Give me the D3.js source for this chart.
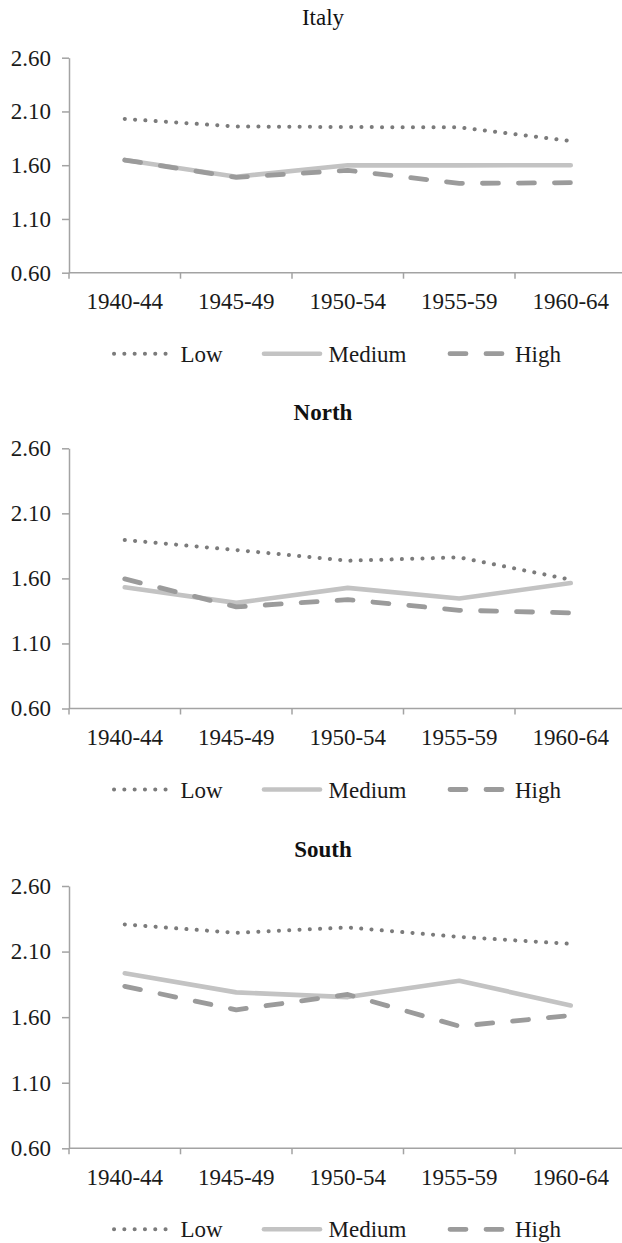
<!DOCTYPE html>
<html><head><meta charset="utf-8">
<script src="https://cdn.jsdelivr.net/npm/d3@7"></script>
<style>body{margin:0;background:#fff}svg{display:block}svg text{font-family:"Liberation Serif","Times New Roman",Times,serif !important}</style>
</head><body><svg id="c" width="622" height="1243" font-family="Liberation Serif, Times New Roman, serif"></svg>
<script>
const categories = ["1940-44","1945-49","1950-54","1955-59","1960-64"];
const yTicks = [0.60, 1.10, 1.60, 2.10, 2.60];
const seriesNames = ["Low","Medium","High"];
const panelTitles = ["Italy","North","South"];

const italyLow    = [2.03, 1.96, 1.955, 1.952, 1.825];
const italyMedium = [1.648, 1.493, 1.60, 1.598, 1.60];
const italyHigh   = [1.648, 1.487, 1.552, 1.431, 1.437];

const northLow    = [1.895, 1.818, 1.736, 1.762, 1.59];
const northMedium = [1.532, 1.412, 1.527, 1.445, 1.565];
const northHigh   = [1.596, 1.381, 1.437, 1.355, 1.335];

const southLow    = [2.307, 2.243, 2.284, 2.212, 2.159];
const southMedium = [1.934, 1.789, 1.753, 1.878, 1.689];
const southHigh   = [1.835, 1.656, 1.773, 1.531, 1.613];

const panelsData = [
  [italyLow, italyMedium, italyHigh],
  [northLow, northMedium, northHigh],
  [southLow, southMedium, southHigh]
];

// layout (not data)
const layout = [
  {title:17,   top:57.7,  bottom:272.7, bold:false},
  {title:411.7,top:448.3, bottom:708.5, bold:true},
  {title:849.3,top:886,   bottom:1148.3,bold:true}
];
const styles = [
  {stroke:"#7b7b7b", width:4, dash:"0.1,10.2", cap:"round"},
  {stroke:"#c3c3c3", width:4.6, dash:null, cap:"round"},
  {stroke:"#9b9b9b", width:4.8, dash:"16,20", cap:"round"}
];
const legendPos = [
  {x1:114, x2:169, tx:180.5},
  {x1:264, x2:320, tx:328.5},
  {x1:450, x2:502, tx:515}
];
const axisColor = "#a3a3a3";
const FS = 23;
const FF = "Liberation Serif, Times New Roman, serif";

const svg = d3.select("#c");
const x = d3.scaleBand().domain(categories).range([69, 626.5]).padding(0);

layout.forEach((L, pi) => {
  const g = svg.append("g");
  const y = d3.scaleLinear().domain([0.6, 2.6]).range([L.bottom, L.top]);

  g.append("text").attr("x", 323).attr("y", L.title).attr("dy", "0.35em")
    .attr("text-anchor", "middle").attr("font-size", FS).attr("font-family", FF)
    .attr("font-weight", L.bold ? "bold" : "normal").attr("fill", "#111")
    .text(panelTitles[pi]);

  // y axis
  const ya = g.append("g").attr("transform", `translate(69,0)`)
    .call(d3.axisLeft(y).tickValues(yTicks).tickFormat(d3.format(".2f"))
      .tickSize(7).tickSizeOuter(0).tickPadding(11));
  ya.attr("font-family", FF).attr("font-size", FS);
  ya.select(".domain").attr("stroke", axisColor).attr("stroke-width", 1.5);
  ya.selectAll(".tick line").attr("stroke", axisColor).attr("stroke-width", 1.5);
  ya.selectAll(".tick text").attr("font-size", FS).attr("fill", "#1a1a1a")
    .attr("font-family", FF);

  // x axis
  const xg = g.append("g");
  xg.append("line").attr("x1", 69).attr("x2", 622).attr("y1", L.bottom).attr("y2", L.bottom)
    .attr("stroke", axisColor).attr("stroke-width", 1.5);
  xg.selectAll("line.tk").data(categories).join("line").attr("class", "tk")
    .attr("x1", d => x(d)).attr("x2", d => x(d))
    .attr("y1", L.bottom).attr("y2", L.bottom + 6)
    .attr("stroke", axisColor).attr("stroke-width", 1.5);
  xg.selectAll("text").data(categories).join("text")
    .attr("x", d => x(d) + x.bandwidth() / 2).attr("y", L.bottom + 20).attr("dy", "0.71em")
    .attr("text-anchor", "middle").attr("font-size", FS).attr("font-family", FF).attr("fill", "#1a1a1a")
    .text(d => d);

  const line = d3.line().x((d, i) => x(categories[i]) + x.bandwidth() / 2).y(d => y(d));
  panelsData[pi].forEach((vals, si) => {
    const s = styles[si];
    g.append("path").datum(vals).attr("d", line).attr("fill", "none")
      .attr("stroke", s.stroke).attr("stroke-width", s.width)
      .attr("stroke-linecap", s.cap).attr("stroke-linejoin", "round")
      .attr("stroke-dasharray", s.dash);
  });

  // legend
  const ly = L.bottom + 81;
  seriesNames.forEach((name, si) => {
    const s = styles[si], p = legendPos[si];
    g.append("line").attr("x1", p.x1).attr("x2", p.x2).attr("y1", ly).attr("y2", ly)
      .attr("stroke", s.stroke).attr("stroke-width", s.width)
      .attr("stroke-linecap", s.cap).attr("stroke-dasharray", s.dash);
    g.append("text").attr("x", p.tx).attr("y", ly).attr("dy", "0.35em")
      .attr("font-size", FS).attr("font-family", FF).attr("fill", "#1a1a1a").text(name);
  });
});
</script></body></html>
